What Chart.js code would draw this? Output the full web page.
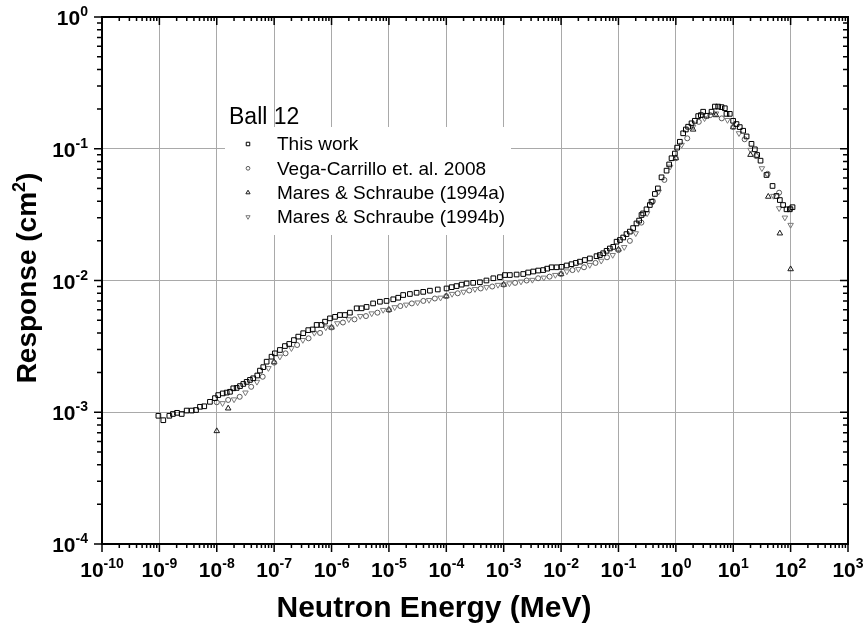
<!DOCTYPE html>
<html>
<head>
<meta charset="utf-8">
<title>Ball 12 response</title>
<script src="https://cdn.jsdelivr.net/npm/chart.js@4.4.1/dist/chart.umd.min.js"></script>
<style>
  html, body { margin: 0; padding: 0; background: #fff; }
  #wrap { width: 863px; height: 624px; }
</style>
</head>
<body>
<div id="wrap"><canvas id="grafico" width="863" height="624"></canvas></div>
<script>
// decades shown on each axis (labels are 10^n)
var xExpoentes = [-10, -9, -8, -7, -6, -5, -4, -3, -2, -1, 0, 1, 2, 3];
var yExpoentes = [-4, -3, -2, -1, 0];

// This work (MeV, cm2)
var thisWorkE = [9.6e-10, 1.17e-9, 1.49e-9, 1.72e-9, 2.03e-9, 2.45e-9, 2.99e-9, 3.66e-9, 4.35e-9, 5.1e-9,
  6.05e-9, 7.6e-9, 9.3e-9, 1.06e-8, 1.27e-8, 1.49e-8, 1.70e-8, 1.94e-8, 2.22e-8, 2.54e-8,
  2.9e-8, 3.32e-8, 3.79e-8, 4.32e-8, 5.08e-8, 5.66e-8, 6.46e-8, 7.4e-8, 9.0e-8, 1.03e-7,
  1.26e-7, 1.54e-7, 1.83e-7, 2.21e-7, 2.63e-7, 3.21e-7, 3.93e-7, 4.69e-7, 5.5e-7, 6.7e-7,
  7.7e-7, 9.4e-7, 1.15e-6, 1.4e-6, 1.71e-6, 2.09e-6, 2.74e-6, 3.34e-6, 4.08e-6, 5.3e-6,
  6.97e-6, 9.1e-6, 1.19e-5, 1.45e-5, 1.77e-5, 2.32e-5, 3.04e-5, 3.96e-5, 5.18e-5, 7.1e-5,
  1.01e-4, 1.24e-4, 1.51e-4, 1.85e-4, 2.26e-4, 2.94e-4, 3.85e-4, 5.0e-4, 6.6e-4, 8.6e-4,
  1.05e-3, 1.28e-3, 1.68e-3, 2.19e-3, 2.67e-3, 3.27e-3, 3.99e-3, 4.88e-3, 5.73e-3, 6.83e-3,
  8.35e-3, 1.02e-2, 1.25e-2, 1.52e-2, 1.81e-2, 2.13e-2, 2.6e-2, 3.18e-2, 4.15e-2, 4.74e-2,
  5.42e-2, 6.21e-2, 7.08e-2, 8.1e-2, 9.27e-2, 0.106, 0.121, 0.138, 0.158, 0.18,
  0.206, 0.229, 0.252, 0.269, 0.308, 0.352, 0.377, 0.431, 0.486, 0.563,
  0.689, 0.764, 0.841, 0.961, 1.054, 1.174, 1.341, 1.494, 1.638, 1.876,
  2.14, 2.45, 2.73, 2.99, 3.43, 4.19, 4.79, 5.46, 6.25, 7.14,
  7.62, 8.72, 9.96, 11.4, 13.0, 14.9, 17.1, 20.8, 23.8, 26.1,
  29.9, 38.0, 48.4, 56.8, 64.9, 74.0, 84.9, 96.9, 108];
var thisWorkR = [9.4e-4, 8.7e-4, 9.4e-4, 9.7e-4, 9.9e-4, 9.7e-4, 1.03e-3, 1.03e-3, 1.04e-3, 1.10e-3,
  1.11e-3, 1.20e-3, 1.28e-3, 1.35e-3, 1.39e-3, 1.41e-3, 1.43e-3, 1.52e-3, 1.53e-3, 1.58e-3,
  1.64e-3, 1.70e-3, 1.76e-3, 1.81e-3, 1.90e-3, 2.07e-3, 2.20e-3, 2.42e-3, 2.64e-3, 2.80e-3,
  2.97e-3, 3.18e-3, 3.30e-3, 3.53e-3, 3.75e-3, 3.98e-3, 4.20e-3, 4.25e-3, 4.60e-3, 4.60e-3,
  4.87e-3, 5.16e-3, 5.30e-3, 5.47e-3, 5.47e-3, 5.70e-3, 6.15e-3, 6.15e-3, 6.30e-3, 6.70e-3,
  6.90e-3, 7.00e-3, 7.20e-3, 7.40e-3, 7.76e-3, 7.90e-3, 8.07e-3, 8.20e-3, 8.37e-3, 8.55e-3,
  8.70e-3, 8.90e-3, 9.07e-3, 9.30e-3, 9.50e-3, 9.60e-3, 9.70e-3, 1.00e-2, 1.04e-2, 1.06e-2,
  1.10e-2, 1.10e-2, 1.11e-2, 1.12e-2, 1.15e-2, 1.17e-2, 1.19e-2, 1.20e-2, 1.23e-2, 1.26e-2,
  1.26e-2, 1.27e-2, 1.30e-2, 1.33e-2, 1.36e-2, 1.39e-2, 1.43e-2, 1.47e-2, 1.53e-2, 1.56e-2,
  1.61e-2, 1.68e-2, 1.75e-2, 1.80e-2, 1.97e-2, 2.03e-2, 2.12e-2, 2.25e-2, 2.35e-2, 2.50e-2,
  2.71e-2, 2.85e-2, 3.14e-2, 3.23e-2, 3.47e-2, 3.74e-2, 3.96e-2, 4.54e-2, 5.00e-2, 6.07e-2,
  6.82e-2, 7.60e-2, 8.47e-2, 9.20e-2, 0.102, 0.113, 0.131, 0.140, 0.147, 0.156,
  0.163, 0.177, 0.180, 0.191, 0.178, 0.191, 0.209, 0.209, 0.207, 0.203,
  0.184, 0.184, 0.163, 0.154, 0.146, 0.137, 0.124, 0.109, 0.099, 0.0897,
  0.0812, 0.0632, 0.0522, 0.0438, 0.0408, 0.0374, 0.0347, 0.0347, 0.036];

// Vega-Carrillo et. al. 2008
var vegaE = [1e-8, 1.58e-8, 2.51e-8, 3.98e-8, 6.31e-8, 1e-7, 1.58e-7, 2.51e-7, 3.98e-7, 6.31e-7,
  1e-6, 1.58e-6, 2.51e-6, 3.98e-6, 6.31e-6, 1e-5, 1.58e-5, 2.51e-5, 3.98e-5, 6.31e-5,
  1e-4, 1.58e-4, 2.51e-4, 3.98e-4, 6.31e-4, 1e-3, 1.58e-3, 2.51e-3, 3.98e-3, 6.31e-3,
  1e-2, 1.58e-2, 2.51e-2, 3.98e-2, 6.31e-2, 0.1, 0.158, 0.251, 0.398, 0.631,
  1, 1.58, 2.51, 3.98, 6.31, 10, 15.8, 25.1, 39.8, 63.1, 100];
var vegaR = [1.19e-3, 1.24e-3, 1.31e-3, 1.56e-3, 1.86e-3, 2.38e-3, 2.80e-3, 3.24e-3, 3.64e-3, 4.00e-3,
  4.40e-3, 4.80e-3, 5.07e-3, 5.37e-3, 5.70e-3, 5.97e-3, 6.40e-3, 6.70e-3, 7.00e-3, 7.30e-3,
  7.60e-3, 8.00e-3, 8.40e-3, 8.70e-3, 9.00e-3, 9.30e-3, 9.60e-3, 1.00e-2, 1.04e-2, 1.07e-2,
  1.12e-2, 1.20e-2, 1.26e-2, 1.36e-2, 1.50e-2, 1.70e-2, 2.00e-2, 2.75e-2, 4.00e-2, 5.80e-2,
  8.47e-2, 0.120, 0.160, 0.180, 0.170, 0.146, 0.118, 0.088, 0.0645, 0.0464, 0.0353];

// Mares & Schraube (1994a)
var maresAE = [1e-8, 1.58e-8, 1e-7, 1e-6, 1e-5, 1e-4, 1e-3, 1e-2, 0.1, 1, 2, 5, 10, 20, 40.8, 64.9, 100];
var maresAR = [7.2e-4, 1.07e-3, 2.4e-3, 4.4e-3, 6.0e-3, 7.6e-3, 9.3e-3, 1.12e-2, 1.72e-2, 8.5e-2,
  0.14, 0.18, 0.146, 0.09, 0.0433, 0.0228, 0.0122];

// Mares & Schraube (1994b)
var maresBE = [1.26e-8, 2.0e-8, 3.16e-8, 5.01e-8, 7.94e-8, 1.26e-7, 2.0e-7, 3.16e-7, 5.01e-7, 7.94e-7,
  1.26e-6, 2.0e-6, 3.16e-6, 5.01e-6, 7.94e-6, 1.26e-5, 2.0e-5, 3.16e-5, 5.01e-5, 7.94e-5,
  1.26e-4, 2.0e-4, 3.16e-4, 5.01e-4, 7.94e-4, 1.26e-3, 2.0e-3, 3.16e-3, 5.01e-3, 7.94e-3,
  1.26e-2, 2.0e-2, 3.16e-2, 5.01e-2, 7.94e-2, 0.126, 0.2, 0.316, 0.501, 0.794,
  1.26, 2.0, 3.16, 5.01, 7.94, 12.6, 20.0, 31.6, 50.1, 63.1, 79.4, 100];
var maresBR = [1.17e-3, 1.25e-3, 1.41e-3, 1.70e-3, 2.16e-3, 2.64e-3, 3.06e-3, 3.53e-3, 4.00e-3, 4.40e-3,
  4.73e-3, 5.07e-3, 5.37e-3, 5.62e-3, 5.97e-3, 6.26e-3, 6.55e-3, 6.80e-3, 7.10e-3, 7.40e-3,
  7.90e-3, 8.20e-3, 8.60e-3, 8.90e-3, 9.25e-3, 9.50e-3, 9.80e-3, 1.01e-2, 1.05e-2, 1.10e-2,
  1.17e-2, 1.22e-2, 1.31e-2, 1.41e-2, 1.56e-2, 1.79e-2, 2.28e-2, 3.23e-2, 4.72e-2, 7.30e-2,
  0.107, 0.147, 0.170, 0.185, 0.165, 0.131, 0.098, 0.071, 0.0438, 0.0353, 0.030, 0.0264];

var fonte = "'Liberation Sans', Arial, Helvetica, sans-serif";

function pares(xs, ys) {
    return xs.map(function (x, i) { return { x: x, y: ys[i] }; });
}

var series = [
    { label: 'This work', data: pares(thisWorkE, thisWorkR), pointStyle: 'rect',
      pointRadius: 3.3, borderColor: '#000000', rotation: 0 },
    { label: 'Vega-Carrillo et. al. 2008', data: pares(vegaE, vegaR), pointStyle: 'circle',
      pointRadius: 2.5, borderColor: '#5a5a5a', rotation: 0 },
    { label: 'Mares & Schraube (1994a)', data: pares(maresAE, maresAR), pointStyle: 'triangle',
      pointRadius: 3.2, borderColor: '#1a1a1a', rotation: 0 },
    { label: 'Mares & Schraube (1994b)', data: pares(maresBE, maresBR), pointStyle: 'triangle',
      pointRadius: 3.2, borderColor: '#7a7a7a', rotation: 180 }
];

series.forEach(function (s) {
    s.backgroundColor = 'rgba(255,255,255,0)';
    s.borderWidth = 1;
    s.pointBorderWidth = 1;
    s.pointRotation = s.rotation;
    s.showLine = false;
});

// 10 with a raised exponent
function potencia(ctx, exp, x, y, alinhar, tamBase, tamExp) {
    ctx.font = 'bold ' + tamBase + 'px ' + fonte;
    var wb = ctx.measureText('10').width;
    ctx.font = 'bold ' + tamExp + 'px ' + fonte;
    var we = ctx.measureText(String(exp)).width;
    var x0 = alinhar === 'center' ? x - (wb + we) / 2 : x - (wb + we);
    ctx.textAlign = 'left';
    ctx.textBaseline = 'alphabetic';
    ctx.font = 'bold ' + tamBase + 'px ' + fonte;
    ctx.fillText('10', x0, y);
    ctx.font = 'bold ' + tamExp + 'px ' + fonte;
    ctx.fillText(String(exp), x0 + wb, y - tamBase * 0.42);
}

var molduraPlugin = {
    id: 'moldura',
    beforeDraw: function (chart) {
        var ctx = chart.ctx;
        ctx.save();
        ctx.fillStyle = '#ffffff';
        ctx.fillRect(0, 0, chart.width, chart.height);
        ctx.restore();
    },
    afterDraw: function (chart) {
        var ctx = chart.ctx;
        var a = chart.chartArea;
        var sx = chart.scales.x, sy = chart.scales.y;
        ctx.save();
        ctx.fillStyle = '#000';
        ctx.strokeStyle = '#000';

        // minor + major ticks on all four sides
        ctx.lineWidth = 1.5;
        ctx.beginPath();
        xExpoentes.forEach(function (e, i) {
            var px = sx.getPixelForValue(Math.pow(10, e));
            ctx.moveTo(px, a.bottom); ctx.lineTo(px, a.bottom + 8);
            ctx.moveTo(px, a.top); ctx.lineTo(px, a.top + 8);
            if (i < xExpoentes.length - 1) {
                for (var k = 2; k <= 9; k++) {
                    var pm = sx.getPixelForValue(k * Math.pow(10, e));
                    ctx.moveTo(pm, a.bottom); ctx.lineTo(pm, a.bottom + 4);
                    ctx.moveTo(pm, a.top); ctx.lineTo(pm, a.top + 4);
                }
            }
        });
        yExpoentes.forEach(function (e, i) {
            var py = sy.getPixelForValue(Math.pow(10, e));
            ctx.moveTo(a.left, py); ctx.lineTo(a.left - 8, py);
            ctx.moveTo(a.right, py); ctx.lineTo(a.right - 8, py);
            if (i < yExpoentes.length - 1) {
                for (var k = 2; k <= 9; k++) {
                    var pm = sy.getPixelForValue(k * Math.pow(10, e));
                    ctx.moveTo(a.left, pm); ctx.lineTo(a.left - 5, pm);
                    ctx.moveTo(a.right, pm); ctx.lineTo(a.right - 5, pm);
                }
            }
        });
        ctx.stroke();

        ctx.lineWidth = 2;
        ctx.strokeRect(a.left, a.top, a.right - a.left, a.bottom - a.top);

        // tick labels
        xExpoentes.forEach(function (e) {
            potencia(ctx, e, sx.getPixelForValue(Math.pow(10, e)), a.bottom + 33, 'center', 21, 14);
        });
        yExpoentes.forEach(function (e) {
            potencia(ctx, e, a.left - 14, sy.getPixelForValue(Math.pow(10, e)) + 8, 'right', 21, 14);
        });

        // axis titles
        ctx.font = 'bold 30px ' + fonte;
        ctx.textAlign = 'center';
        ctx.textBaseline = 'alphabetic';
        ctx.fillText('Neutron Energy (MeV)', 434, 617);

        ctx.save();
        ctx.translate(36, 278);
        ctx.rotate(-Math.PI / 2);
        var t1 = 'Response (cm', t2 = '2', t3 = ')';
        ctx.font = 'bold 28px ' + fonte;
        var w1 = ctx.measureText(t1).width, w3 = ctx.measureText(t3).width;
        ctx.font = 'bold 18px ' + fonte;
        var w2 = ctx.measureText(t2).width;
        var x0 = -(w1 + w2 + w3) / 2;
        ctx.textAlign = 'left';
        ctx.font = 'bold 28px ' + fonte;
        ctx.fillText(t1, x0, 0);
        ctx.font = 'bold 18px ' + fonte;
        ctx.fillText(t2, x0 + w1, -11);
        ctx.font = 'bold 28px ' + fonte;
        ctx.fillText(t3, x0 + w1 + w2, 0);
        ctx.restore();

        // legend
        ctx.fillStyle = '#ffffff';
        ctx.fillRect(225, 127, 286, 108);
        ctx.fillStyle = '#000';
        ctx.font = '23px ' + fonte;
        ctx.textAlign = 'left';
        ctx.fillText('Ball 12', 229, 124);
        ctx.font = '19px ' + fonte;
        ctx.textBaseline = 'middle';
        chart.data.datasets.forEach(function (ds, i) {
            var cy = 144 + i * 24.3;
            ctx.fillStyle = '#ffffff';
            ctx.strokeStyle = ds.borderColor;
            ctx.lineWidth = 1;
            Chart.helpers.drawPoint(ctx, {
                pointStyle: ds.pointStyle, radius: ds.pointRadius * 0.75,
                rotation: ds.rotation, borderWidth: 1
            }, 248, cy);
            ctx.fillStyle = '#000';
            ctx.fillText(ds.label, 277, cy + 1);
        });
        ctx.restore();
    }
};

var config = {
    type: 'scatter',
    data: { datasets: series },
    options: {
        responsive: false,
        animation: false,
        layout: { padding: { top: 17, right: 15, left: 0, bottom: 0 } },
        plugins: {
            legend: { display: false },
            tooltip: { enabled: false }
        },
        scales: {
            x: {
                type: 'logarithmic',
                min: 1e-10,
                max: 1e3,
                afterBuildTicks: function (s) {
                    s.ticks = xExpoentes.map(function (e) { return { value: Math.pow(10, e) }; });
                },
                afterFit: function (s) { s.height = 80; },
                ticks: { display: false },
                grid: { color: '#a9a9a9', lineWidth: 1, drawTicks: false },
                border: { display: false }
            },
            y: {
                type: 'logarithmic',
                min: 1e-4,
                max: 1,
                afterBuildTicks: function (s) {
                    s.ticks = yExpoentes.map(function (e) { return { value: Math.pow(10, e) }; });
                },
                afterFit: function (s) { s.width = 102; },
                ticks: { display: false },
                grid: { color: '#a9a9a9', lineWidth: 1, drawTicks: false },
                border: { display: false }
            }
        }
    },
    plugins: [molduraPlugin]
};

var grafico = new Chart(document.getElementById('grafico').getContext('2d'), config);
</script>
</body>
</html>
